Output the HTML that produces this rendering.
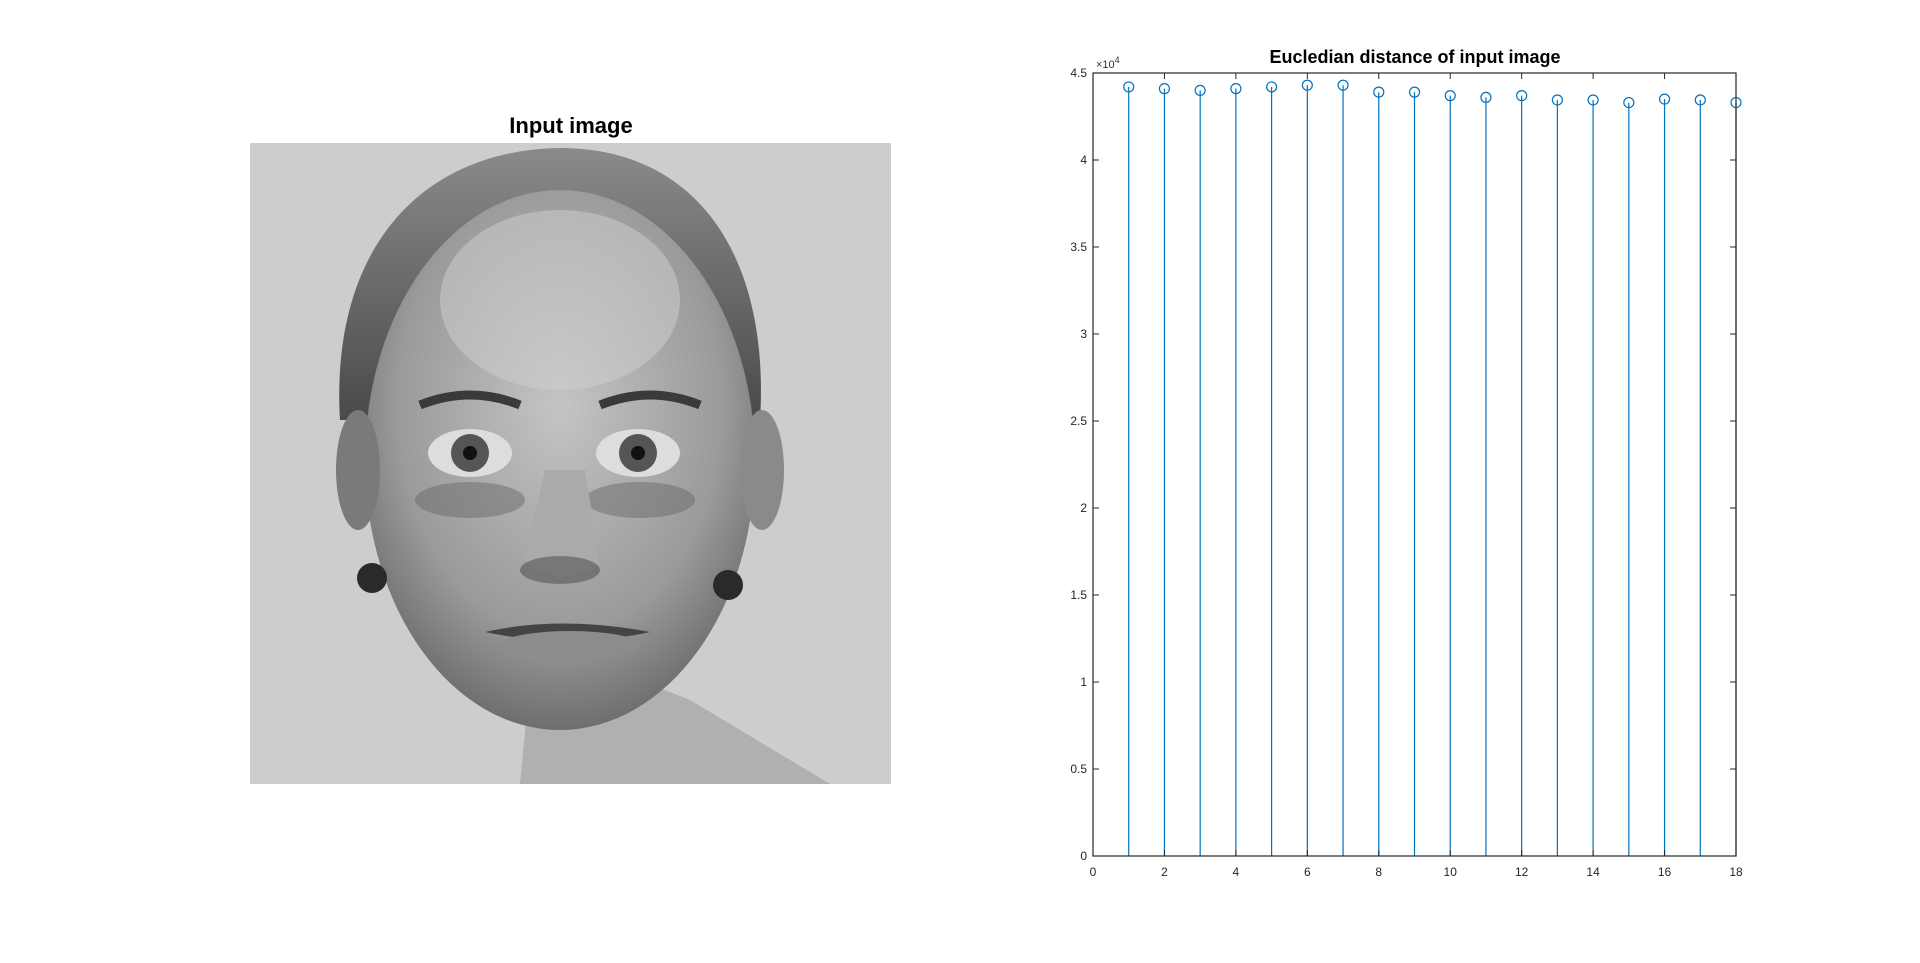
<!DOCTYPE html>
<html><head><meta charset="utf-8"><style>
html,body{margin:0;padding:0;background:#fff;width:1920px;height:963px;overflow:hidden;font-family:"Liberation Sans",Arial,sans-serif}
</style></head><body>
<svg width="1920" height="963" viewBox="0 0 1920 963">
  <g>
    <text x="571" y="133" text-anchor="middle" font-size="22" font-weight="bold" fill="#000">Input image</text>
    <g>
      <defs>
        <radialGradient id="faceG" cx="50%" cy="40%" r="60%"><stop offset="0" stop-color="#c4c4c4"/><stop offset="0.7" stop-color="#9a9a9a"/><stop offset="1" stop-color="#6e6e6e"/></radialGradient>
        <linearGradient id="hairG" x1="0" y1="0" x2="0" y2="1"><stop offset="0" stop-color="#8a8a8a"/><stop offset="1" stop-color="#4a4a4a"/></linearGradient>
      </defs>
      <rect x="250" y="143" width="641" height="641" fill="#cdcdcd"/>
      <path d="M340 420 C330 250 420 150 560 148 C700 148 770 260 760 420 Z" fill="url(#hairG)"/>
      <path d="M520 784 L530 680 L640 680 L690 700 L830 784 Z" fill="#b0b0b0"/>
      <ellipse cx="560" cy="460" rx="195" ry="270" fill="url(#faceG)"/>
      <ellipse cx="560" cy="300" rx="120" ry="90" fill="#cfcfcf" opacity="0.5"/>
      <ellipse cx="358" cy="470" rx="22" ry="60" fill="#7a7a7a"/>
      <ellipse cx="762" cy="470" rx="22" ry="60" fill="#8a8a8a"/>
      <path d="M420 405 Q470 385 520 405" stroke="#3a3a3a" stroke-width="9" fill="none"/>
      <path d="M600 405 Q650 385 700 405" stroke="#3a3a3a" stroke-width="9" fill="none"/>
      <ellipse cx="470" cy="453" rx="42" ry="24" fill="#ddd"/>
      <ellipse cx="638" cy="453" rx="42" ry="24" fill="#ddd"/>
      <circle cx="470" cy="453" r="19" fill="#555"/><circle cx="638" cy="453" r="19" fill="#555"/>
      <circle cx="470" cy="453" r="7" fill="#111"/><circle cx="638" cy="453" r="7" fill="#111"/>
      <ellipse cx="470" cy="500" rx="55" ry="18" fill="#6a6a6a" opacity="0.5"/>
      <ellipse cx="640" cy="500" rx="55" ry="18" fill="#6a6a6a" opacity="0.5"/>
      <path d="M545 470 L525 560 Q560 590 600 565 L585 470 Z" fill="#aaa"/>
      <ellipse cx="560" cy="570" rx="40" ry="14" fill="#555" opacity="0.6"/>
      <path d="M485 632 Q560 615 650 632 Q570 650 485 632 Z" fill="#444"/>
      <ellipse cx="570" cy="645" rx="70" ry="14" fill="#8c8c8c"/>
      <circle cx="372" cy="578" r="15" fill="#2a2a2a"/>
      <circle cx="728" cy="585" r="15" fill="#2a2a2a"/>
    </g>
  </g>
  <g id="chart">
    <text x="1415" y="63" text-anchor="middle" font-size="18" font-weight="bold" fill="#000">Eucledian distance of input image</text>
    <text x="1096" y="68" font-size="11" fill="#333">×10<tspan dy="-5" font-size="9">4</tspan></text>
    <g id="stems"></g>
    <g id="axes"></g>
  </g>
</svg>
<script>
const xTicks = [0,2,4,6,8,10,12,14,16,18];
const yTicks = [0,0.5,1,1.5,2,2.5,3,3.5,4,4.5];
const yTickLabels = ["0","0.5","1","1.5","2","2.5","3","3.5","4","4.5"];
const indices = [1,2,3,4,5,6,7,8,9,10,11,12,13,14,15,16,17,18];
const distances = [4.42,4.41,4.40,4.41,4.42,4.43,4.43,4.39,4.39,4.37,4.36,4.37,4.345,4.345,4.33,4.35,4.345,4.33];

const L=1093,R=1736,T=73,B=856;
const sx=v=>L+(v-0)/(18-0)*(R-L);
const sy=v=>B-(v-0)/(4.5-0)*(B-T);
const NS="http://www.w3.org/2000/svg";
function mk(tag,attrs,parent){const e=document.createElementNS(NS,tag);for(const k in attrs)e.setAttribute(k,attrs[k]);parent.appendChild(e);return e;}
const stems=document.getElementById('stems'), axes=document.getElementById('axes');
indices.forEach((x,i)=>{
  const ln=mk('line',{x1:sx(x),x2:sx(x),y1:sy(0),y2:sy(distances[i]),stroke:'#0072BD','stroke-width':1.2},stems);
  
  
  const c=mk('circle',{cx:sx(x),cy:sy(distances[i]),r:5,fill:'none',stroke:'#0072BD','stroke-width':1.2},stems);
  
  
});
const box=mk('rect',{x:L,y:T,width:R-L,height:B-T,fill:'none',stroke:'#262626','stroke-width':1.2},axes);


xTicks.forEach(v=>{
  const x=sx(v);
  mk('line',{x1:x,x2:x,y1:B,y2:B-6,stroke:'#262626'},axes);
  mk('line',{x1:x,x2:x,y1:T,y2:T+6,stroke:'#262626'},axes);
  const t=mk('text',{x:x,y:B+20,'text-anchor':'middle','font-size':12,fill:'#262626'},axes);
  t.textContent=v;
  
  
});
yTicks.forEach((v,i)=>{
  const y=sy(v);
  mk('line',{x1:L,x2:L+6,y1:y,y2:y,stroke:'#262626'},axes);
  mk('line',{x1:R,x2:R-6,y1:y,y2:y,stroke:'#262626'},axes);
  const t=mk('text',{x:L-6,y:y+4,'text-anchor':'end','font-size':12,fill:'#262626'},axes);
  t.textContent=yTickLabels[i];
  
  
});
</script>
</body></html>
